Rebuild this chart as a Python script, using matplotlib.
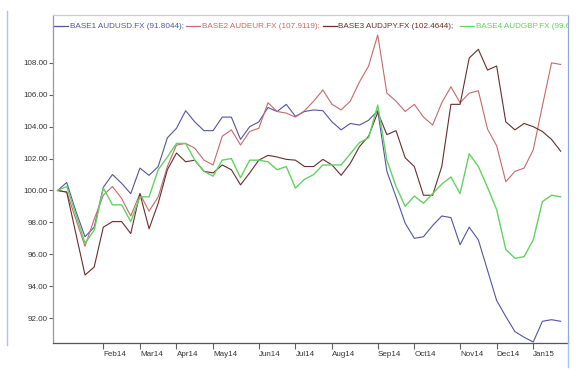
import numpy as np
import pandas as pd
import matplotlib
matplotlib.use("Agg")
import matplotlib.pyplot as plt
from matplotlib import font_manager
from matplotlib.lines import Line2D

# weekly rebased series (base = 100), Fridays from 3 Jan 2014
weeks = pd.date_range("2014-01-03", periods=56, freq="W-FRI")

audusd = [100.0, 100.5, 98.7, 97.1, 97.7, 100.2, 101.0, 100.45, 99.8, 101.4,
          100.95, 101.5, 103.3, 103.9, 105.0, 104.3, 103.75, 103.75, 104.6, 104.6,
          103.2, 104.0, 104.3, 105.2, 104.95, 105.4, 104.65, 104.95, 105.05, 105.0,
          104.3, 103.8, 104.2, 104.1, 104.4, 105.0, 101.2, 99.6, 97.95, 97.0,
          97.1, 97.8, 98.4, 98.3, 96.6, 97.7, 96.9, 95.0, 93.1, 92.1,
          91.15, 90.8, 90.5, 91.8, 91.9, 91.8]
audeur = [100.0, 99.9, 98.2, 96.5, 98.2, 99.7, 100.25, 99.5, 98.4, 99.8,
          98.7, 99.6, 101.5, 102.85, 102.95, 102.65, 101.9, 101.6, 103.4, 103.8,
          102.85, 103.7, 103.9, 105.5, 104.95, 104.85, 104.6, 105.0, 105.6, 106.3,
          105.4, 105.05, 105.6, 106.8, 107.8, 109.75, 106.1, 105.6, 104.95, 105.4,
          104.6, 104.1, 105.5, 106.5, 105.5, 106.1, 106.25, 103.85, 102.8, 100.55,
          101.2, 101.4, 102.55, 105.3, 108.0, 107.9]
audjpy = [100.0, 99.9, 97.3, 94.7, 95.2, 97.7, 98.05, 98.05, 97.3, 99.8,
          97.6, 99.2, 101.3, 102.35, 101.8, 101.9, 101.2, 101.1, 101.6, 101.3,
          100.35, 101.1, 101.9, 102.2, 102.1, 101.95, 101.9, 101.5, 101.5, 101.95,
          101.6, 100.95, 101.7, 102.75, 103.4, 104.9, 103.5, 103.75, 102.05, 101.5,
          99.7, 99.7, 101.5, 105.4, 105.4, 108.3, 108.85, 107.55, 107.8, 104.3,
          103.8, 104.2, 104.0, 103.7, 103.2, 102.46]
audgbp = [100.0, 100.25, 98.5, 96.7, 97.5, 100.15, 99.1, 99.1, 98.05, 99.6,
          99.6, 101.3, 102.1, 102.95, 102.95, 101.9, 101.2, 100.9, 101.9, 102.0,
          100.8, 101.9, 101.9, 101.8, 101.3, 101.5, 100.15, 100.7, 101.0, 101.6,
          101.6, 101.6, 102.3, 103.0, 103.3, 105.35, 101.9, 100.25, 99.0, 99.65,
          99.2, 99.8, 100.4, 100.85, 99.8, 102.3, 101.5, 100.2, 98.8, 96.3,
          95.75, 95.85, 96.9, 99.3, 99.7, 99.6]

series = [audusd, audeur, audjpy, audgbp]
names = ["BASE1 AUDUSD.FX", "BASE2 AUDEUR.FX", "BASE3 AUDJPY.FX", "BASE4 AUDGBP.FX"]
last_values = ["91.8044", "107.9119", "102.4644", f"{audgbp[-1]:.4f}"]
colors = ["#52559e", "#c56a6a", "#6a2c2c", "#62d262"]
widths = [0.8, 0.8, 0.8, 1.0]
yticks = [92, 94, 96, 98, 100, 102, 104, 106, 108]

# condensed font if available
have_narrow = any(f.name == "Liberation Sans Narrow" for f in font_manager.fontManager.ttflist)
if have_narrow:
    font = ["Liberation Sans Narrow", "DejaVu Sans"]
    tick_size, leg_size = 7.0, 7.2
else:
    font = ["Liberation Sans", "DejaVu Sans"]
    tick_size, leg_size = 5.8, 5.9
plt.rcParams["font.family"] = font

W, H = 583, 387
fig = plt.figure(figsize=(W / 100, H / 100), dpi=100)
left_px, right_px, top_px, bottom_px = 53, 568, 15, 343.3
ax = fig.add_axes([left_px / W, 1 - bottom_px / H,
                   (right_px - left_px) / W, (bottom_px - top_px) / H])

x = np.arange(len(weeks))
for vals, c, lw in zip(series, colors, widths):
    ax.plot(x, vals, color=c, lw=lw)

ax.set_xlim(-0.5, 55.8)
ax.set_ylim(90.42, 111.0)

# month ticks at the first week of each month (Feb14 .. Jan15)
months = weeks.to_period("M")
first_idx = [i for i in range(1, len(weeks)) if months[i] != months[i - 1]]
ax.set_xticks(first_idx)
ax.set_xticklabels([weeks[i].strftime("%b%y") for i in first_idx], ha="left")
ax.set_yticks(yticks)
ax.set_yticklabels([f"{v:.2f}" for v in yticks])

ax.tick_params(axis="x", length=4, width=0.8, color="#606060", pad=1.5,
               labelsize=tick_size, labelcolor="#333333")
ax.tick_params(axis="y", length=3, width=0.8, color="#606060", pad=1,
               labelsize=tick_size, labelcolor="#333333")

ax.spines["left"].set_color("#9a9a9a")
ax.spines["bottom"].set_color("#555555")
ax.spines["top"].set_color("#cccccc")
ax.spines["right"].set_color("#8fa8d8")
for s in ax.spines.values():
    s.set_linewidth(0.9)

# legend strip along the top, clipped at the right border
def fx(px):
    return (px - left_px) / (right_px - left_px)

leg_y = (bottom_px - 26) / (bottom_px - top_px)
dash_px = [54, 186, 323, 460]
for name, val, c, d in zip(names, last_values, colors, dash_px):
    ax.plot([fx(d), fx(d + 14)], [leg_y, leg_y], color=c, lw=0.9,
            transform=ax.transAxes, clip_on=True)
    ax.text(fx(d + 15.5), leg_y, f"{name} ({val});", color=c, fontsize=leg_size,
            transform=ax.transAxes, va="center", ha="left", clip_on=True)

# thin blue frame lines of the original window
fig.add_artist(Line2D([6.7 / W, 6.7 / W], [1 - 345 / H, 1 - 11 / H],
                      color="#a8c4f0", lw=1.0))
fig.add_artist(Line2D([right_px / W, right_px / W], [1 - 367 / H, 1 - bottom_px / H],
                      color="#a8c4f0", lw=1.0))

fig.savefig("out.png", dpi=100)
